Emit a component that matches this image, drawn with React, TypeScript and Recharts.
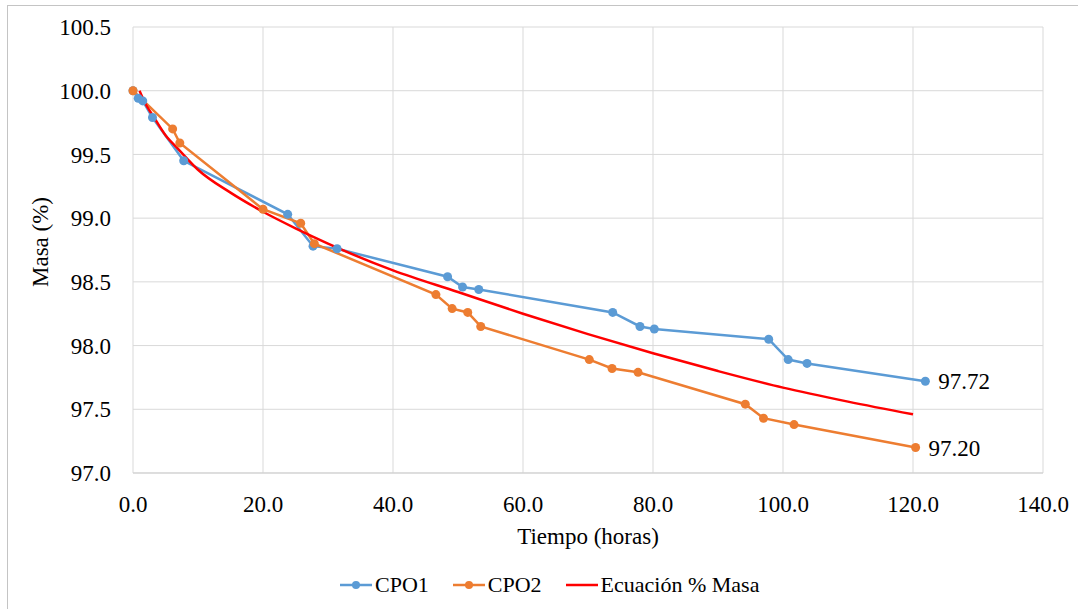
import React from 'react';
import { LineChart, Line, XAxis, YAxis, CartesianGrid, Legend, LabelList } from 'recharts';

const cpo1X = [0, 0.8, 1.5, 3.0, 7.8, 23.8, 27.7, 31.4, 48.4, 50.7, 53.2, 73.8, 78.0, 80.2, 97.8, 100.8, 103.7, 121.9];
const cpo1Y = [100.0, 99.94, 99.92, 99.79, 99.45, 99.03, 98.78, 98.76, 98.54, 98.46, 98.44, 98.26, 98.15, 98.13, 98.05, 97.89, 97.86, 97.72];

const cpo2X = [0, 6.1, 7.2, 20.0, 25.8, 27.9, 46.6, 49.1, 51.5, 53.5, 70.2, 73.7, 77.7, 94.2, 97.0, 101.7, 120.4];
const cpo2Y = [100.0, 99.70, 99.59, 99.07, 98.96, 98.80, 98.40, 98.29, 98.26, 98.15, 97.89, 97.82, 97.79, 97.54, 97.43, 97.38, 97.20];

const eqX = [1, 2, 3, 5, 7, 10, 15, 20, 25, 30, 40, 50, 60, 70, 80, 90, 100, 110, 120];
const eqY = [100.0, 99.89, 99.81, 99.65, 99.54, 99.38, 99.2, 99.05, 98.92, 98.8, 98.59, 98.42, 98.25, 98.09, 97.94, 97.8, 97.67, 97.56, 97.46];

const xTicks = [0, 20, 40, 60, 80, 100, 120, 140];
const yTicks = [97.0, 97.5, 98.0, 98.5, 99.0, 99.5, 100.0, 100.5];

const toPts = (xs: number[], ys: number[]) => xs.map((x, i) => ({ x, y: ys[i] }));
const cpo1 = toPts(cpo1X, cpo1Y);
const cpo2 = toPts(cpo2X, cpo2Y);
const eq = toPts(eqX, eqY);

const FONT = "'Liberation Serif'";
const BLUE = '#5b9bd5';
const ORANGE = '#ed7d31';
const RED = '#ff0000';

const makeLastLabel = (n: number) => (props: any) => {
  const { x, y, index, value } = props;
  if (index !== n - 1) return null;
  return (
    <text x={x + 13} y={y} dy="0.35em" fontFamily={FONT} fontSize={23} fill="#000" textAnchor="start">
      {Number(value).toFixed(2)}
    </text>
  );
};

const LegendContent = () => {
  const items = [
    { name: 'CPO1', color: BLUE, dot: true },
    { name: 'CPO2', color: ORANGE, dot: true },
    { name: 'Ecuación % Masa', color: RED, dot: false },
  ];
  return (
    <div style={{ display: 'flex', alignItems: 'center', height: 30, paddingLeft: 340, fontFamily: FONT, fontSize: 22, color: '#000' }}>
      {items.map((it, i) => (
        <div key={it.name} style={{ display: 'flex', alignItems: 'center', marginRight: i < 2 ? 24 : 0 }}>
          <svg width={32} height={12} style={{ display: 'block' }}>
            <line x1={0} y1={6} x2={32} y2={6} stroke={it.color} strokeWidth={2.5} />
            {it.dot && <circle cx={16} cy={6} r={4} fill={it.color} />}
          </svg>
          <span style={{ marginLeft: 3, lineHeight: '30px', fontFamily: FONT }}>{it.name}</span>
        </div>
      ))}
    </div>
  );
};

export default function App() {
  return (
    <div style={{ position: 'absolute', left: 0, top: 0, width: 1078, height: 609, background: '#fff', fontFamily: FONT }}>
      <div style={{ position: 'absolute', left: 7, top: 5, width: 1100, height: 700, borderLeft: '1px solid #c4c4c4', borderTop: '1px solid #c4c4c4' }} />
      <LineChart width={1078} height={609} margin={{ top: 27, right: 35, left: 0, bottom: 0 }}>
        <CartesianGrid stroke="#d9d9d9" strokeWidth={1} />
        <XAxis
          type="number"
          dataKey="x"
          domain={[0, 140]}
          ticks={xTicks}
          tickFormatter={(v: number) => v.toFixed(1)}
          tick={{ fontSize: 23, fill: '#000', fontFamily: FONT }}
          tickLine={false}
          tickSize={0}
          tickMargin={23}
          axisLine={{ stroke: '#cfcfcf' }}
          height={106}
          allowDuplicatedCategory={false}
          label={(p: any) => (
            <text x={588} y={544} textAnchor="middle" fontFamily={FONT} fontSize={23} fill="#000">
              Tiempo (horas)
            </text>
          )}
        />
        <YAxis
          type="number"
          dataKey="y"
          domain={[97, 100.5]}
          ticks={yTicks}
          tickFormatter={(v: number) => v.toFixed(1)}
          tick={{ fontSize: 23, fill: '#000', fontFamily: FONT }}
          tickLine={false}
          tickSize={0}
          tickMargin={22}
          axisLine={false}
          width={133}
          label={(p: any) => (
            <text x={48} y={242} textAnchor="middle" fontFamily={FONT} fontSize={23} fill="#000" transform="rotate(-90 48 242)">
              Masa (%)
            </text>
          )}
        />
        <Legend
          verticalAlign="bottom"
          content={<LegendContent />}
          wrapperStyle={{ left: 0, width: 1078, bottom: 9, height: 30 }}
        />
        <Line data={cpo1} dataKey="y" name="CPO1" type="linear" stroke={BLUE} strokeWidth={2.5}
          dot={{ r: 4.5, fill: BLUE, stroke: BLUE, strokeWidth: 0 }} activeDot={false} isAnimationActive={false}>
          <LabelList dataKey="y" content={makeLastLabel(cpo1.length)} />
        </Line>
        <Line data={cpo2} dataKey="y" name="CPO2" type="linear" stroke={ORANGE} strokeWidth={2.5}
          dot={{ r: 4.5, fill: ORANGE, stroke: ORANGE, strokeWidth: 0 }} activeDot={false} isAnimationActive={false}>
          <LabelList dataKey="y" content={makeLastLabel(cpo2.length)} />
        </Line>
        <Line data={eq} dataKey="y" name="Ecuación % Masa" type="monotone" stroke={RED} strokeWidth={2.5}
          dot={false} activeDot={false} isAnimationActive={false} />
      </LineChart>
    </div>
  );
}
